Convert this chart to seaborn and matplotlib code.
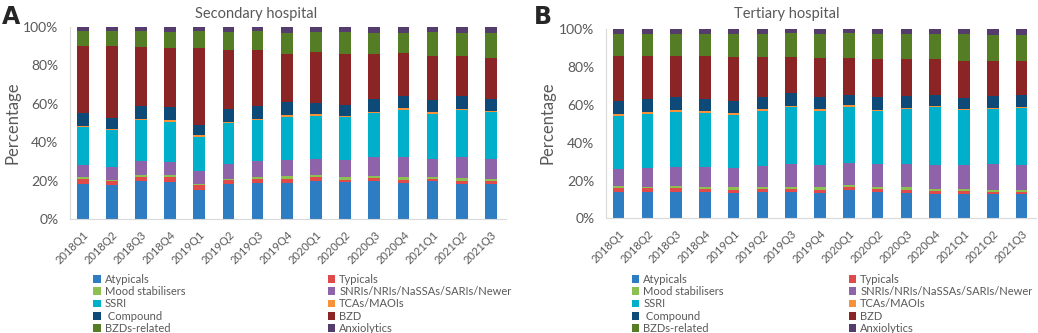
import numpy as np
import pandas as pd
import matplotlib
matplotlib.use("Agg")
import matplotlib.pyplot as plt
from matplotlib.patches import Patch
import seaborn as sns

quarters = ["2018Q1", "2018Q2", "2018Q3", "2018Q4", "2019Q1", "2019Q2", "2019Q3", "2019Q4",
            "2020Q1", "2020Q2", "2020Q3", "2020Q4", "2021Q1", "2021Q2", "2021Q3"]

categories = ["Atypicals", "Typicals", "Mood stabilisers", "SNRIs/NRIs/NaSSAs/SARIs/Newer",
              "SSRI", "TCAs/MAOIs", " Compound", "BZD", "BZDs-related", "Anxiolytics"]

colors = ["#2E7DC2", "#E04A4A", "#8CC152", "#8E63A9", "#00B0CA",
          "#F7923A", "#0D4A78", "#8B2424", "#557D25", "#543C6C"]

# secondary hospital, % share per quarter
sec_atypicals = [18.5, 17.7, 19.6, 19.2, 15.4, 18.4, 18.9, 18.7, 19.6, 19.1, 19.8, 18.7, 19.6, 18.5, 18.5]
sec_typicals = [2.6, 2.1, 2.4, 2.6, 2.1, 1.9, 1.9, 2.1, 2.1, 1.5, 1.5, 1.8, 1.2, 1.4, 1.1]
sec_mood = [0.7, 0.7, 0.7, 0.9, 0.9, 0.8, 1.0, 1.4, 1.0, 1.2, 1.2, 1.5, 1.0, 1.4, 1.2]
sec_snri = [6.4, 6.5, 7.3, 7.1, 6.6, 7.8, 8.4, 8.8, 8.7, 8.9, 9.9, 10.1, 9.4, 10.9, 10.6]
sec_ssri = [19.8, 19.4, 21.5, 20.8, 17.8, 21.0, 21.4, 22.4, 22.5, 22.2, 22.9, 24.9, 23.6, 24.6, 24.4]
sec_tca = [0.7, 0.7, 0.8, 0.9, 0.9, 0.9, 0.7, 0.8, 0.9, 0.7, 0.7, 0.7, 0.8, 0.7, 0.7]
sec_compound = [6.4, 5.6, 6.8, 6.6, 5.2, 6.4, 6.6, 6.6, 5.7, 6.0, 6.7, 6.4, 6.3, 6.5, 5.9]
sec_bzd = [35.2, 37.3, 30.5, 30.8, 40.2, 30.7, 29.1, 25.0, 26.3, 26.5, 23.3, 22.2, 23.2, 21.1, 21.7]
sec_bzd_rel = [7.4, 7.7, 8.1, 8.5, 8.6, 9.5, 9.7, 11.1, 10.4, 11.1, 11.1, 10.8, 12.1, 11.6, 12.6]
sec_anx = [2.3, 2.3, 2.3, 2.6, 2.3, 2.6, 2.3, 3.1, 2.8, 2.8, 2.9, 2.9, 2.8, 3.3, 3.3]

# tertiary hospital
ter_atypicals = [13.9, 13.9, 13.8, 13.8, 13.4, 13.8, 13.9, 13.4, 15.2, 14.1, 13.6, 12.9, 13.1, 12.7, 12.7]
ter_typicals = [2.3, 2.0, 2.2, 1.9, 1.9, 1.7, 1.6, 1.9, 1.4, 1.6, 1.4, 1.4, 1.2, 1.2, 1.4]
ter_mood = [1.1, 0.9, 1.1, 1.1, 1.1, 1.1, 1.1, 1.1, 1.0, 1.1, 1.4, 1.2, 1.2, 1.3, 1.2]
ter_snri = [9.0, 10.0, 10.1, 10.2, 10.4, 11.1, 12.1, 11.6, 11.9, 12.1, 12.5, 12.5, 12.7, 13.7, 12.9]
ter_ssri = [28.0, 28.6, 29.2, 28.9, 27.9, 29.3, 30.0, 29.0, 29.4, 27.7, 28.8, 30.7, 29.1, 29.1, 30.4]
ter_tca = [1.1, 0.9, 1.1, 0.9, 0.9, 0.8, 0.9, 0.8, 0.9, 0.9, 0.7, 0.7, 0.7, 0.6, 0.5]
ter_compound = [6.5, 6.7, 6.5, 6.2, 6.3, 6.2, 6.7, 6.2, 5.3, 6.5, 6.2, 6.0, 5.7, 6.1, 6.0]
ter_bzd = [24.2, 23.1, 22.1, 22.7, 23.5, 21.4, 19.1, 20.7, 19.6, 20.1, 19.9, 18.9, 19.7, 18.4, 18.0]
ter_bzd_rel = [11.6, 11.6, 11.4, 12.0, 12.3, 12.3, 12.5, 13.0, 13.2, 13.4, 13.0, 13.2, 14.0, 14.1, 14.1]
ter_anx = [2.3, 2.3, 2.5, 2.3, 2.3, 2.3, 2.1, 2.3, 2.1, 2.5, 2.5, 2.5, 2.6, 2.8, 2.8]

secondary = [sec_atypicals, sec_typicals, sec_mood, sec_snri, sec_ssri,
             sec_tca, sec_compound, sec_bzd, sec_bzd_rel, sec_anx]
tertiary = [ter_atypicals, ter_typicals, ter_mood, ter_snri, ter_ssri,
            ter_tca, ter_compound, ter_bzd, ter_bzd_rel, ter_anx]

GREY = "#595959"
LINE = "#D9D9D9"

sns.set_style("white")
plt.rcParams['font.family'] = ['Lato', 'DejaVu Sans']


def stacked(ax, series):
    df = pd.DataFrame(np.array(series).T, columns=categories)
    df.insert(0, "quarter", quarters)
    cum = df[categories].cumsum(axis=1)
    # draw tallest cumulative first so each lower layer paints over it
    for i in range(len(categories) - 1, -1, -1):
        sns.barplot(x=df["quarter"], y=cum[categories[i]], color=colors[i],
                    saturation=1, width=0.4, linewidth=0, ax=ax)
    ax.set_ylim(0, 100)
    ax.set_xlim(-0.45, 14.5)
    ax.set_yticks(range(0, 101, 20))
    ax.set_yticklabels([f"{v}%" for v in range(0, 101, 20)], fontsize=10, color=GREY)
    ax.set_xticks(range(len(quarters)))
    ax.set_xticklabels(quarters, rotation=45, ha="right", rotation_mode="anchor",
                       fontsize=8, color=GREY)
    ax.tick_params(axis="both", length=4, color=LINE, width=0.8, pad=3)
    ax.tick_params(axis="y", pad=4)
    ax.set_xlabel("")
    ax.set_ylabel("")
    sns.despine(ax=ax, top=True, right=True)
    for s in ["left", "bottom"]:
        ax.spines[s].set_color(LINE)
        ax.spines[s].set_linewidth(0.8)


fig = plt.figure(figsize=(10.38, 3.33), dpi=100)
ax1 = fig.add_axes([0.067, 0.342, 0.420, 0.577])
ax2 = fig.add_axes([0.5834, 0.344, 0.4146, 0.568])

stacked(ax1, secondary)
stacked(ax2, tertiary)

fig.text(0.2466, 0.958, "Secondary hospital", fontsize=10.5, color=GREY,
         ha="center", va="center")
fig.text(0.758, 0.958, "Tertiary hospital", fontsize=10.5, color=GREY,
         ha="center", va="center")

for lx in [0.012, 0.527]:
    fig.text(lx, 1 - 123 / 333, "Percentage", rotation=90, fontsize=12,
             color=GREY, ha="center", va="center")

fig.text(0.002, 0.985, "A", fontsize=17, fontweight="bold", ha="left", va="top",
         family="DejaVu Sans")
fig.text(0.514, 0.985, "B", fontsize=17, fontweight="bold", ha="left", va="top",
         family="DejaVu Sans")

handles = [Patch(facecolor=c, edgecolor="none") for c in colors]
left_idx = [0, 2, 4, 6, 8]
right_idx = [1, 3, 5, 7, 9]
legend_pos = [(0.090, 0.316), (0.609, 0.818)]
for x1, x2 in legend_pos:
    for xx, idx in [(x1, left_idx), (x2, right_idx)]:
        fig.legend([handles[i] for i in idx], [categories[i] for i in idx],
                   loc="upper left", bbox_to_anchor=(xx, 0.178), frameon=False,
                   fontsize=8, handlelength=0.65, handleheight=0.65,
                   handletextpad=0.35, labelspacing=0.12, borderpad=0,
                   borderaxespad=0, labelcolor=GREY)

fig.savefig("out.png", dpi=100)
